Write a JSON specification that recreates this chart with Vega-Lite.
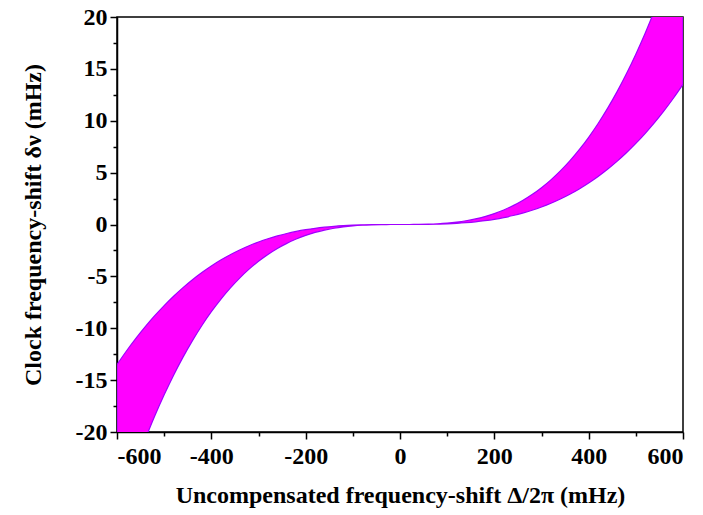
{
  "$schema": "https://vega.github.io/schema/vega-lite/v6.json",
  "width": 566,
  "height": 415,
  "autosize": "none",
  "padding": {"left": 117, "top": 17, "right": 20, "bottom": 83},
  "background": "white",
  "config": {
    "view": {"stroke": "black", "strokeWidth": 1.5},
    "axis": {
      "labelFont": "Liberation Serif",
      "titleFont": "Liberation Serif",
      "labelFontWeight": "bold",
      "titleFontWeight": "bold",
      "labelColor": "black",
      "titleColor": "black",
      "domainColor": "black",
      "tickColor": "black",
      "domainWidth": 1.5,
      "tickWidth": 1.5,
      "grid": false
    }
  },
  "data": {
    "values": [
      {"x": -600, "inner": -13.5, "outer": -28.369},
      {"x": -580, "inner": -12.195, "outer": -25.626},
      {"x": -560, "inner": -10.976, "outer": -23.065},
      {"x": -540, "inner": -9.842, "outer": -20.681},
      {"x": -520, "inner": -8.788, "outer": -18.467},
      {"x": -500, "inner": -7.813, "outer": -16.418},
      {"x": -480, "inner": -6.912, "outer": -14.525},
      {"x": -460, "inner": -6.084, "outer": -12.784},
      {"x": -440, "inner": -5.324, "outer": -11.188},
      {"x": -420, "inner": -4.631, "outer": -9.731},
      {"x": -400, "inner": -4.0, "outer": -8.406},
      {"x": -380, "inner": -3.43, "outer": -7.207},
      {"x": -360, "inner": -2.916, "outer": -6.128},
      {"x": -340, "inner": -2.457, "outer": -5.162},
      {"x": -320, "inner": -2.048, "outer": -4.304},
      {"x": -300, "inner": -1.688, "outer": -3.546},
      {"x": -280, "inner": -1.372, "outer": -2.883},
      {"x": -260, "inner": -1.099, "outer": -2.308},
      {"x": -240, "inner": -0.864, "outer": -1.816},
      {"x": -220, "inner": -0.666, "outer": -1.399},
      {"x": -200, "inner": -0.5, "outer": -1.051},
      {"x": -180, "inner": -0.365, "outer": -0.766},
      {"x": -160, "inner": -0.256, "outer": -0.538},
      {"x": -140, "inner": -0.172, "outer": -0.36},
      {"x": -120, "inner": -0.108, "outer": -0.227},
      {"x": -100, "inner": -0.063, "outer": -0.131},
      {"x": -80, "inner": -0.032, "outer": -0.067},
      {"x": -60, "inner": -0.014, "outer": -0.028},
      {"x": -40, "inner": -0.004, "outer": -0.008},
      {"x": -20, "inner": -0.001, "outer": -0.001},
      {"x": 0, "inner": 0, "outer": 0},
      {"x": 20, "inner": 0.001, "outer": 0.001},
      {"x": 40, "inner": 0.004, "outer": 0.008},
      {"x": 60, "inner": 0.014, "outer": 0.028},
      {"x": 80, "inner": 0.032, "outer": 0.067},
      {"x": 100, "inner": 0.063, "outer": 0.131},
      {"x": 120, "inner": 0.108, "outer": 0.227},
      {"x": 140, "inner": 0.172, "outer": 0.36},
      {"x": 160, "inner": 0.256, "outer": 0.538},
      {"x": 180, "inner": 0.365, "outer": 0.766},
      {"x": 200, "inner": 0.5, "outer": 1.051},
      {"x": 220, "inner": 0.666, "outer": 1.399},
      {"x": 240, "inner": 0.864, "outer": 1.816},
      {"x": 260, "inner": 1.099, "outer": 2.308},
      {"x": 280, "inner": 1.372, "outer": 2.883},
      {"x": 300, "inner": 1.688, "outer": 3.546},
      {"x": 320, "inner": 2.048, "outer": 4.304},
      {"x": 340, "inner": 2.457, "outer": 5.162},
      {"x": 360, "inner": 2.916, "outer": 6.128},
      {"x": 380, "inner": 3.43, "outer": 7.207},
      {"x": 400, "inner": 4.0, "outer": 8.406},
      {"x": 420, "inner": 4.631, "outer": 9.731},
      {"x": 440, "inner": 5.324, "outer": 11.188},
      {"x": 460, "inner": 6.084, "outer": 12.784},
      {"x": 480, "inner": 6.912, "outer": 14.525},
      {"x": 500, "inner": 7.813, "outer": 16.418},
      {"x": 520, "inner": 8.788, "outer": 18.467},
      {"x": 540, "inner": 9.842, "outer": 20.681},
      {"x": 560, "inner": 10.976, "outer": 23.065},
      {"x": 580, "inner": 12.195, "outer": 25.626},
      {"x": 600, "inner": 13.5, "outer": 28.369}
    ]
  },
  "mark": {"type": "area", "clip": true, "color": "#FF00FF", "stroke": "#A000FF", "strokeWidth": 1.2, "interpolate": "monotone"},
  "encoding": {
    "x": {
      "field": "x",
      "type": "quantitative",
      "scale": {"domain": [-600, 600], "nice": false, "zero": false},
      "axis": {
        "title": "Uncompensated frequency-shift Δ/2π  (mHz)",
        "values": [-600, -500, -400, -300, -200, -100, 0, 100, 200, 300, 400, 500, 600],
        "labelExpr": "datum.value % 200 === 0 ? '' + datum.value : ''",
        "tickSize": {"condition": {"test": "datum.value % 200 === 0", "value": 7}, "value": 4},
        "labelFontSize": 24,
        "titleFontSize": 24,
        "labelPadding": 5,
        "titlePadding": 15
      }
    },
    "y": {
      "field": "inner",
      "type": "quantitative",
      "scale": {"domain": [-20, 20], "nice": false, "zero": false},
      "axis": {
        "title": "Clock frequency-shift δν (mHz)",
        "values": [-20, -17.5, -15, -12.5, -10, -7.5, -5, -2.5, 0, 2.5, 5, 7.5, 10, 12.5, 15, 17.5, 20],
        "labelExpr": "datum.value % 5 === 0 ? '' + datum.value : ''",
        "tickSize": {"condition": {"test": "datum.value % 5 === 0", "value": 7}, "value": 4},
        "labelFontSize": 24,
        "titleFontSize": 24,
        "labelPadding": 3,
        "titlePadding": 30
      }
    },
    "y2": {"field": "outer"}
  }
}
